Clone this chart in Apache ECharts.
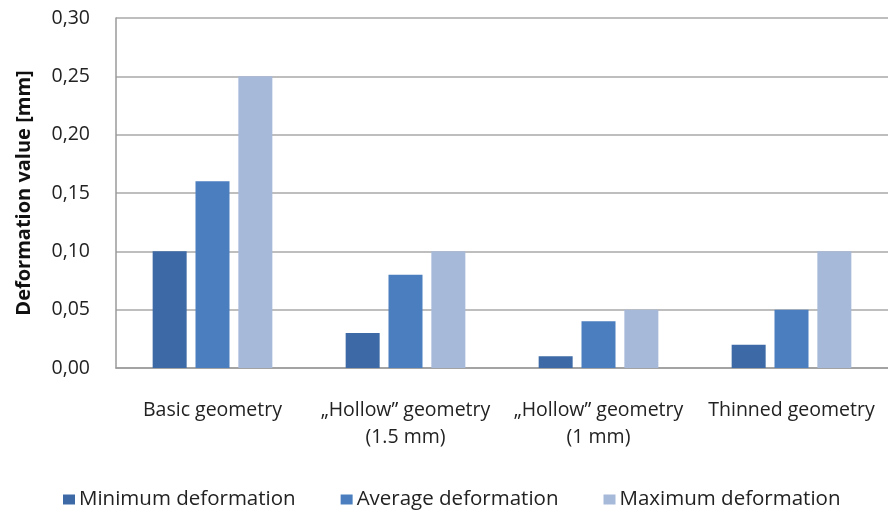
<!DOCTYPE html>
<html>
<head>
<meta charset="utf-8">
<script src="https://cdn.jsdelivr.net/npm/echarts@6/dist/echarts.min.js"></script>
<style>
  html, body { margin: 0; padding: 0; background: #fff; }
  #chart { width: 888px; height: 512px; }
</style>
</head>
<body>
<div id="chart"></div>
<script>
// Geometry variants and their measured deformation (mm)
const categories = ['Basic geometry', '\u201EHollow\u201D geometry\n(1.5 mm)', '\u201EHollow\u201D geometry\n(1 mm)', 'Thinned geometry'];
const minimumDeformation = [0.10, 0.03, 0.01, 0.02];
const averageDeformation = [0.16, 0.08, 0.04, 0.05];
const maximumDeformation = [0.25, 0.10, 0.05, 0.10];
const yTicks = { min: 0, max: 0.30, interval: 0.05 };

const FONT = 'Open Sans';
const chart = echarts.init(document.getElementById('chart'), null, { renderer: 'canvas' });

const barSeries = (name, data, color) => ({
  name, type: 'bar', data,
  barWidth: 34, barGap: '26%',
  itemStyle: { color },
  emphasis: { disabled: true }
});

chart.setOption({
  animation: false,
  textStyle: { fontFamily: FONT },
  grid: { left: 116, right: 0, top: 18, bottom: 144 },
  legend: {
    top: 484, left: 58,
    itemWidth: 12, itemHeight: 10, itemGap: 45,
    icon: 'rect',
    textStyle: { fontFamily: FONT, fontSize: 20.5, color: '#222', padding: [0, 0, 0, -1] },
    data: ['Minimum deformation', 'Average deformation', 'Maximum deformation']
  },
  xAxis: {
    type: 'category',
    data: categories,
    axisLine: { lineStyle: { color: '#9a9a9a', width: 1.5 } },
    axisTick: { show: false },
    axisLabel: {
      interval: 0, margin: 29, fontSize: 19.5, lineHeight: 27,
      color: '#222', fontFamily: FONT
    }
  },
  yAxis: {
    type: 'value',
    min: yTicks.min, max: yTicks.max, interval: yTicks.interval,
    name: 'Deformation value [mm]',
    nameLocation: 'middle', nameGap: 82, nameRotate: 90,
    nameTextStyle: { fontFamily: FONT, fontSize: 20, fontWeight: 'bold', color: '#111' },
    axisLine: { show: true, lineStyle: { color: '#9a9a9a', width: 1.5 } },
    axisTick: { show: false },
    splitLine: { lineStyle: { color: '#a8a8a8', width: 1.5 } },
    axisLabel: {
      margin: 26, fontSize: 19.5, color: '#222', fontFamily: FONT,
      formatter: v => v.toFixed(2).replace('.', ',')
    }
  },
  series: [
    barSeries('Minimum deformation', minimumDeformation, '#3d6aa6'),
    barSeries('Average deformation', averageDeformation, '#4a7ebf'),
    barSeries('Maximum deformation', maximumDeformation, '#a7b9d9')
  ]
});
</script>
</body>
</html>
